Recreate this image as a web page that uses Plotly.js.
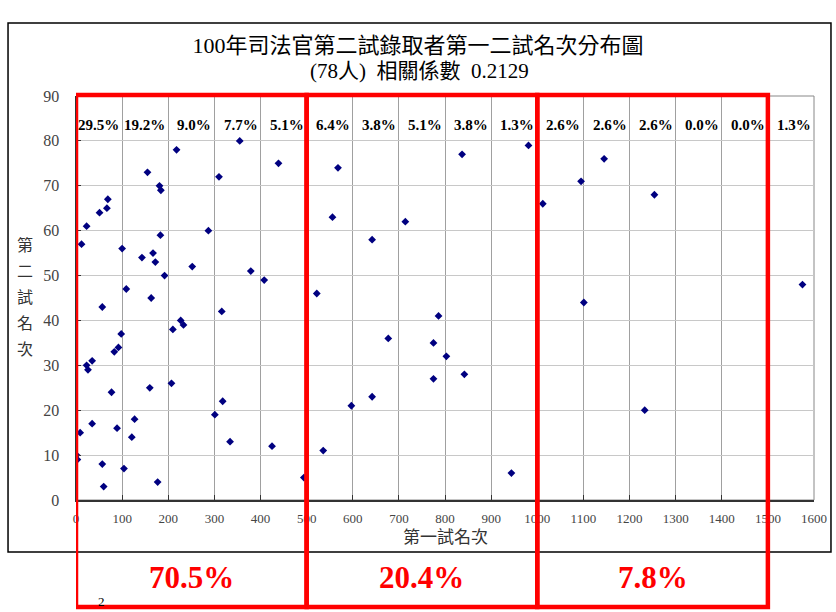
<!DOCTYPE html>
<html><head><meta charset="utf-8">
<script src="https://cdn.plot.ly/plotly-3.0.1.min.js"></script>
<style>html,body{margin:0;padding:0;background:#fff}</style>
</head><body>
<div id="chart" style="width:836px;height:612px"></div>
<script>
// 第一試名次 (x) and 第二試名次 (y) of the 78 admitted candidates
const firstRank = [355,218,439,155,310,181,184,69,67,51,23,287,183,12,100,167,143,172,252,379,192,408,109,163,57,316,227,233,210,98,92,83,35,23,26,207,160,77,318,301,127,35,89,9,121,334,425,1,3,57,104,494,177,60,
  522,568,556,597,536,642,677,642,714,775,775,786,837,803,842,981,944,
  1012,1095,1145,1101,1254,1233,
  1575];
const secondRank = [80,78,75,73,72,70,69,67,65,64,61,60,59,57,56,55,54,53,52,51,50,49,47,45,43,42,40,39,38,37,34,33,31,30,29,26,25,24,22,19,18,17,16,15,14,13,12,10,9,8,7,5,4,3,
  46,74,63,21,11,58,36,23,62,35,27,41,77,32,28,79,6,
  66,71,76,44,68,20,
  48];
// share of candidates per 100 first-exam ranks (label sits at the bin's right end)
const binEnds = [100,200,300,400,500,600,700,800,900,1000,1100,1200,1300,1400,1500,1600];
const binLabels = ['29.5%','19.2%','9.0%','7.7%','5.1%','6.4%','3.8%','5.1%','3.8%','1.3%','2.6%','2.6%','2.6%','0.0%','0.0%','1.3%'];
// red group boxes
const groupStart = [0,500,1000];
const groupEnd = [500,1000,1500];
const groupLabels = ['70.5%','20.4%','7.8%'];
const xTicks = [0,100,200,300,400,500,600,700,800,900,1000,1100,1200,1300,1400,1500,1600];
const yTicks = [0,10,20,30,40,50,60,70,80,90];
const yTitleChars = ['第','二','試','名','次'];
const titleLine1 = '100年司法官第二試錄取者第一二試名次分布圖';
const titleLine2 = '(78人)  相關係數 \u00a00.2129';

const serif = 'Liberation Serif, Noto Sans CJK TC, serif';
const cjk = 'Liberation Serif, Noto Sans CJK TC, sans-serif';

const annotations = [];
binEnds.forEach((b,i)=>{
  annotations.push({x:b-2, y:83.6, xref:'x', yref:'y', text:binLabels[i], showarrow:false,
    xanchor:'right', yanchor:'middle', font:{family:serif, size:15, color:'#000', weight:'bold'}});
});
groupLabels.forEach((t,i)=>{
  annotations.push({x:(groupStart[i]+groupEnd[i])/2, y:-0.193, xref:'x', yref:'paper', text:t, showarrow:false,
    xanchor:'center', yanchor:'middle', font:{family:serif, size:31, color:'#ff0000', weight:'bold'}});
});
yTitleChars.forEach((c,i)=>{
  annotations.push({x:-0.069, y:(500-(245+i*26.2))/404, xref:'paper', yref:'paper', text:c, showarrow:false,
    xanchor:'center', yanchor:'middle', font:{family:cjk, size:16, color:'#333'}});
});
annotations.push({x:0.5, y:(500-537)/404, xref:'paper', yref:'paper', text:'第一試名次', showarrow:false,
  xanchor:'center', yanchor:'middle', font:{family:cjk, size:17, color:'#333'}});
annotations.push({x:(419-76)/738, y:(500-71)/404, xref:'paper', yref:'paper', text:titleLine2, showarrow:false,
  xanchor:'center', yanchor:'middle', font:{family:cjk, size:21, color:'#000'}});
annotations.push({x:56, y:(500-610)/404, xref:'x', yref:'paper', text:'2', showarrow:false,
  xanchor:'center', yanchor:'bottom', borderpad:0, font:{family:serif, size:13, color:'#000'}});

const shapes = [
  {type:'rect', xref:'paper', yref:'paper', x0:-0.0921, x1:1.023, y0:-0.1287, y1:1.1807,
   line:{color:'#000', width:1.5}, layer:'below'},
  {type:'rect', xref:'paper', yref:'paper', x0:0, x1:1, y0:0, y1:1,
   line:{color:'#888', width:1}, layer:'below'}
];
groupStart.forEach((s,i)=>{
  shapes.push({type:'rect', xref:'x', yref:'paper', x0:s, x1:groupEnd[i], y0:-0.265, y1:1.0025,
    line:{color:'#ff0000', width:4.5}, fillcolor:'rgba(0,0,0,0)', layer:'above'});
});

const data = [{
  type:'scatter', mode:'markers', x:firstRank, y:secondRank,
  marker:{symbol:'diamond', size:6, color:'#000080'}, hoverinfo:'x+y'
}];

const layout = {
  width:836, height:612,
  margin:{l:76, r:22, t:96, b:112, pad:0},
  paper_bgcolor:'#fff', plot_bgcolor:'#fff',
  showlegend:false,
  title:{text:titleLine1,
    x:0.5, xref:'container', xanchor:'center', y:1-45/612, yref:'container', yanchor:'middle',
    font:{family:cjk, size:22, color:'#000'}},
  xaxis:{range:[0,1600], tickvals:xTicks, ticktext:xTicks.map(String), showgrid:true, gridcolor:'#a0a0a0', gridwidth:1,
    zeroline:false, showline:true, linecolor:'#333', linewidth:1.5, ticks:'inside', ticklen:5, tickcolor:'#333',
    ticklabelstandoff:6, tickfont:{family:serif, size:13, color:'#444'}, fixedrange:true},
  yaxis:{range:[0,90], tickvals:yTicks, ticktext:yTicks.map(String), showgrid:true, gridcolor:'#c8c8c8', gridwidth:1,
    zeroline:false, showline:true, linecolor:'#333', linewidth:1.5, ticks:'inside', ticklen:5, tickcolor:'#333',
    ticklabelstandoff:12, tickfont:{family:serif, size:16, color:'#444'}, fixedrange:true},
  annotations:annotations,
  shapes:shapes
};
Plotly.newPlot('chart', data, layout, {displayModeBar:false, staticPlot:true});
</script>
</body></html>
